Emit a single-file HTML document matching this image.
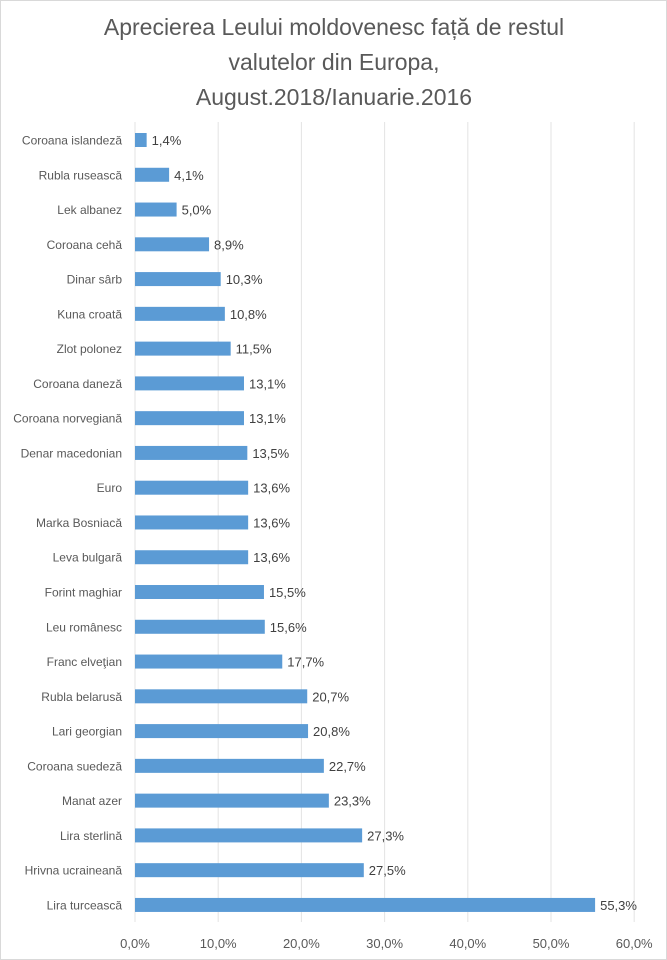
<!DOCTYPE html>
<html><head><meta charset="utf-8">
<style>
body{margin:0;background:#fff;}
#wrap{position:relative;width:667px;height:960px;overflow:hidden;}
svg text{font-family:"Liberation Sans",sans-serif;}
</style></head>
<body>
<div id="wrap">
<svg id="chart" width="667" height="960">
<rect x="0.5" y="0.5" width="666" height="959" fill="#fff" stroke="#d9d9d9"/>
<g fill="#595959" font-size="23" text-anchor="middle">
<text x="334" y="35">Aprecierea Leului moldovenesc fa&#539;&#259; de restul</text>
<text x="334" y="70">valutelor din Europa,</text>
<text x="334" y="105">August.2018/Ianuarie.2016</text>
</g>
<g id="grid"></g>
<g id="bars"></g>
<g id="xticks"></g>
</svg>
</div>
<script>
const categories=["Coroana islandeză","Rubla rusească","Lek albanez","Coroana cehă","Dinar sârb","Kuna croată","Zlot polonez","Coroana daneză","Coroana norvegiană","Denar macedonian","Euro","Marka Bosniacă","Leva bulgară","Forint maghiar","Leu românesc","Franc elveţian","Rubla belarusă","Lari georgian","Coroana suedeză","Manat azer","Lira sterlină","Hrivna ucraineană","Lira turcească"];
const values=[1.4,4.1,5.0,8.9,10.3,10.8,11.5,13.1,13.1,13.5,13.6,13.6,13.6,15.5,15.6,17.7,20.7,20.8,22.7,23.3,27.3,27.5,55.3];
const ticks=[0,10,20,30,40,50,60];
const NS="http://www.w3.org/2000/svg";
const x0=135,pxPer=8.32,yTop=122,yBot=922,y0=140,pitch=34.77,bh=14;
function xs(v){return x0+v*pxPer;}
function ys(i){return y0+i*pitch;}
function fmt(v){return v.toFixed(1).replace('.',',')+'%';}
function mk(tag,attrs){const e=document.createElementNS(NS,tag);for(const k in attrs)e.setAttribute(k,attrs[k]);return e;}
const grid=document.getElementById('grid'),bars=document.getElementById('bars'),xt=document.getElementById('xticks');
ticks.forEach(t=>{
  const l=mk('line',{x1:xs(t),x2:xs(t),y1:yTop,y2:yBot,stroke:'#e3e3e3','stroke-width':1});
  
  
  grid.appendChild(l);
  const tx=mk('text',{x:xs(t),y:948,'text-anchor':'middle','font-size':13,fill:'#595959'});
  tx.textContent=fmt(t);
  
  
  xt.appendChild(tx);
});
categories.forEach((c,i)=>{
  const y=ys(i);
  const lab=mk('text',{x:122,y:y+4.5,'text-anchor':'end','font-size':12,fill:'#595959'});
  lab.textContent=c;
  
  
  bars.appendChild(lab);
  const r=mk('rect',{x:xs(0),y:y-bh/2,width:xs(values[i])-xs(0),height:bh,fill:'#5b9bd5'});
  
  
  bars.appendChild(r);
  const v=mk('text',{x:xs(values[i])+5,y:y+5,'font-size':13,fill:'#404040'});
  v.textContent=fmt(values[i]);
  
  
  bars.appendChild(v);
});
</script>
</body></html>
